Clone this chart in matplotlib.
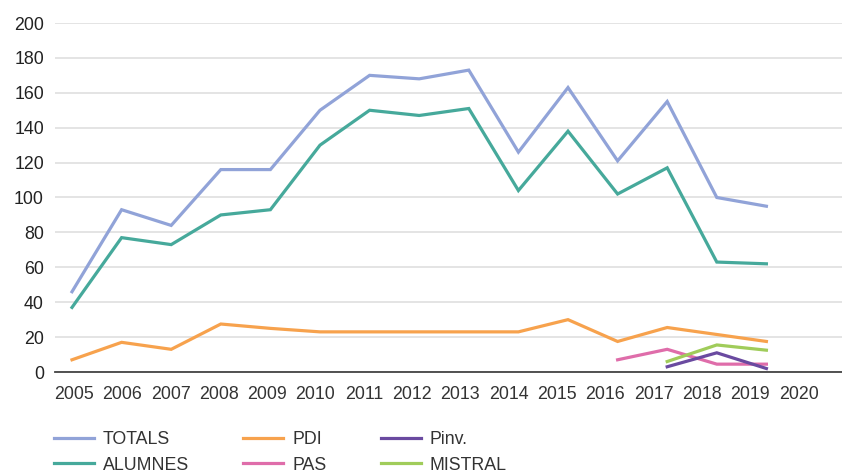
import matplotlib
matplotlib.use("Agg")
import matplotlib.pyplot as plt

plt.rcParams['font.family'] = ['Liberation Sans', 'DejaVu Sans']

years = ["2005", "2006", "2007", "2008", "2009", "2010", "2011", "2012",
         "2013", "2014", "2015", "2016", "2017", "2018", "2019", "2020"]

totals = [46, 93, 84, 116, 116, 150, 170, 168, 173, 126, 163, 121, 155, 100, 95]
alumnes = [37, 77, 73, 90, 93, 130, 150, 147, 151, 104, 138, 102, 117, 63, 62]
pdi = [7, 17, 13, 27.5, 25, 23, 23, 23, 23, 23, 30, 17.5, 25.5, 21.5, 17.5]
pinv = [None] * 12 + [3, 11, 2]
pas = [None] * 11 + [7, 13, 4.5, 4.5]
mistral = [None] * 12 + [6, 15.5, 12.5]

series = [
    ("TOTALS", totals, "#91A3D8"),
    ("ALUMNES", alumnes, "#46A99B"),
    ("PDI", pdi, "#F7A24D"),
    ("PAS", pas, "#DF6DAA"),
    ("Pinv.", pinv, "#6A4AA0"),
    ("MISTRAL", mistral, "#A0CC5A"),
]

W, H = 842, 473
fig = plt.figure(figsize=(W / 100, H / 100), dpi=100)
left, right, top, bottom = 55, 842, 23, 372
ax = fig.add_axes([left / W, 1 - bottom / H, (right - left) / W, (bottom - top) / H])

FS = 12.8

# category axis for labels
tick_step = 48.3
tick0 = 74
ax.set_xlim((left - tick0) / tick_step, (right - tick0) / tick_step)
ax.set_xticks(range(len(years)))
ax.set_xticklabels(years)
ax.set_ylim(0, 200)
ax.set_yticks(range(0, 201, 20))
ax.grid(axis='y', color='#e2e2e2', linewidth=1.3)
ax.set_axisbelow(True)
for s in ['top', 'right', 'left']:
    ax.spines[s].set_visible(False)
ax.spines['bottom'].set_color('#444444')
ax.spines['bottom'].set_linewidth(1.3)
ax.tick_params(axis='both', length=0, labelsize=FS, colors='#222222')
ax.tick_params(axis='x', pad=10, colors='#333333')
ax.tick_params(axis='y', pad=8)

# data axis (points spaced slightly differently from labels)
ax2 = ax.twiny()
pt_step = 49.6
pt0 = 72
ax2.set_xlim((left - pt0) / pt_step, (right - pt0) / pt_step)
ax2.axis('off')
xs = list(range(15))
handles = []
for name, vals, col in series:
    xv = [x for x, v in zip(xs, vals) if v is not None]
    yv = [v for v in vals if v is not None]
    h, = ax2.plot(xv, yv, color=col, linewidth=2.3, label=name, solid_joinstyle='miter')
    handles.append(h)
ax2.set_ylim(0, 200)

leg = fig.legend(handles=handles, labels=[s[0] for s in series], ncol=3,
                 loc='upper left', bbox_to_anchor=(54 / W, 1 - 431 / H),
                 frameon=False, fontsize=FS, handlelength=2.25,
                 handletextpad=0.5, columnspacing=3.05, labelspacing=0.48,
                 borderpad=0, borderaxespad=0)
for t in leg.get_texts():
    t.set_color('#333333')

fig.savefig("out.png", dpi=100)
